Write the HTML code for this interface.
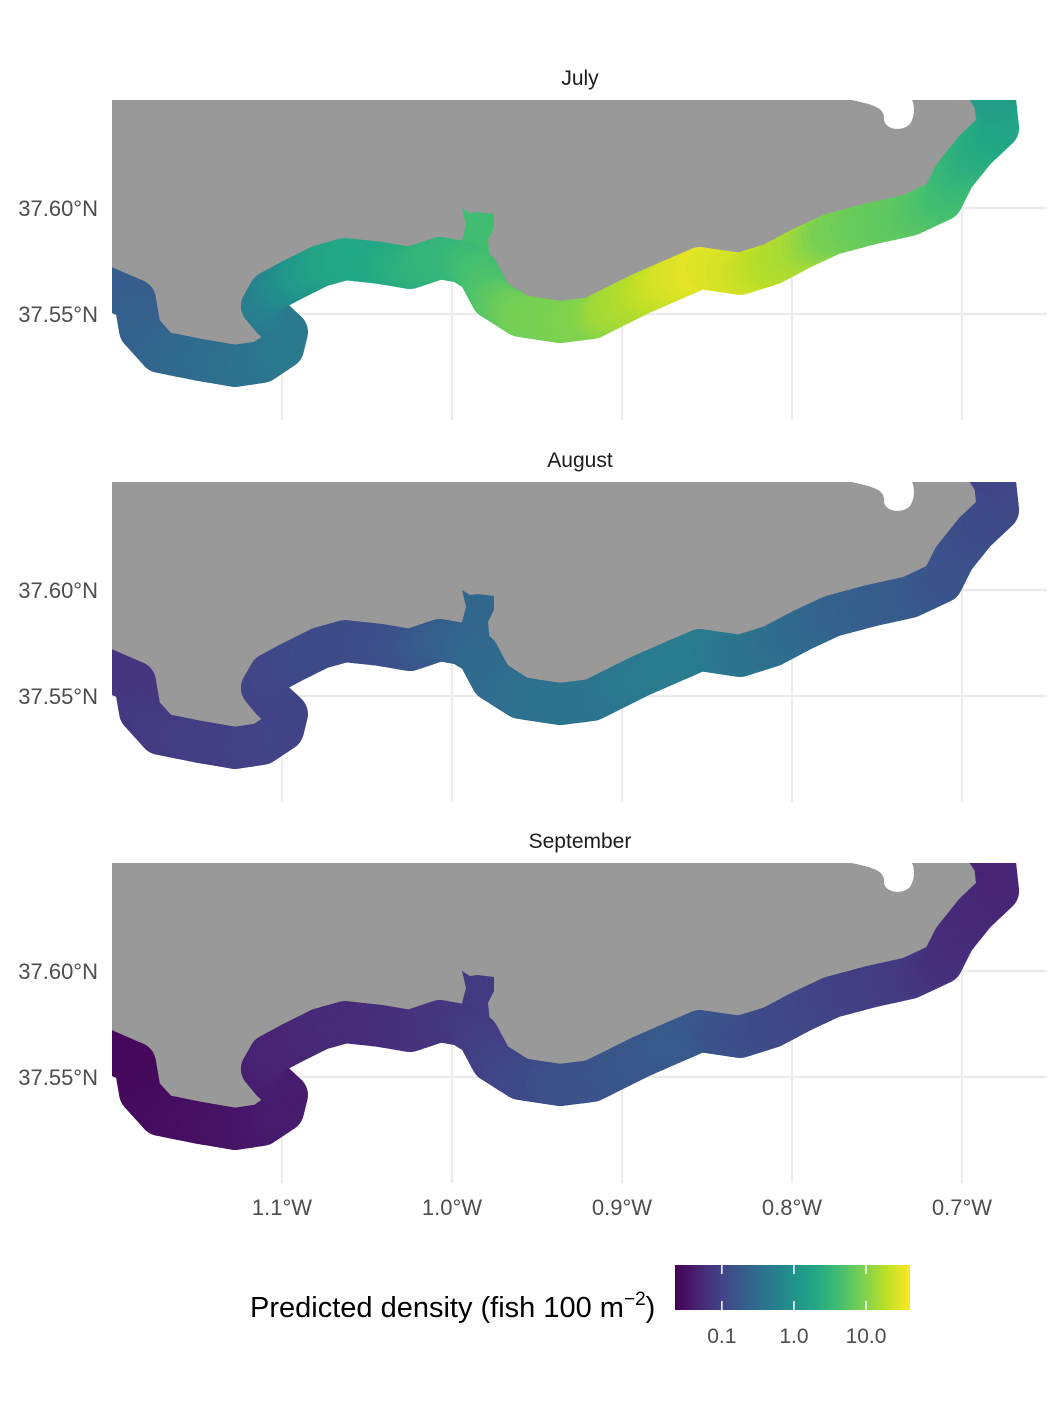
<!DOCTYPE html>
<html><head><meta charset="utf-8"><style>
body{margin:0;background:#fff;}
svg text{font-family:"Liberation Sans",Arial,sans-serif;}
</style></head><body>
<svg id="chart" width="1062" height="1417" viewBox="0 0 1062 1417" xmlns="http://www.w3.org/2000/svg"></svg>
<script>
const months = ['July','August','September'];
const coastLon = [-1.2071,-1.1865,-1.1835,-1.1718,-1.1482,-1.1276,-1.1118,-1.0994,-1.0971,-1.1059,-1.1118,-1.1071,-1.0941,-1.0776,-1.0629,-1.0424,-1.0247,-1.0071,-0.9941,-0.9847,-0.9765,-0.9600,-0.9365,-0.9176,-0.9059,-0.8894,-0.8706,-0.8541,-0.8306,-0.8118,-0.7941,-0.7765,-0.7541,-0.7306,-0.7118,-0.7047,-0.6924,-0.6788,-0.6806,-0.6865];
const coastLat = [37.5637,37.5566,37.5425,37.5321,37.5283,37.5255,37.5274,37.5340,37.5415,37.5481,37.5538,37.5604,37.5660,37.5726,37.5759,37.5741,37.5717,37.5764,37.5745,37.5698,37.5575,37.5491,37.5462,37.5481,37.5528,37.5594,37.5660,37.5717,37.5689,37.5736,37.5811,37.5877,37.5925,37.5967,37.6038,37.6151,37.6274,37.6377,37.6509,37.6580];
const densityJuly = [0.2,0.2,0.22,0.25,0.3,0.35,0.4,0.45,0.45,0.45,0.5,0.6,0.9,1.5,2.0,2.0,2.5,3.0,3.2,4.0,5.0,8,9,10,14,17,25,30,25,18,15,9,7,6,4.5,3.5,2.5,2,1.6,1.4];
const densityAug = [0.07,0.07,0.075,0.08,0.085,0.09,0.095,0.1,0.1,0.1,0.1,0.105,0.11,0.12,0.125,0.13,0.15,0.2,0.24,0.27,0.3,0.34,0.38,0.39,0.42,0.46,0.5,0.52,0.42,0.36,0.3,0.25,0.21,0.19,0.16,0.15,0.13,0.12,0.11,0.1];
const densitySep = [0.026,0.026,0.027,0.028,0.03,0.033,0.036,0.04,0.04,0.04,0.042,0.045,0.048,0.052,0.055,0.058,0.062,0.07,0.075,0.08,0.09,0.11,0.14,0.15,0.16,0.17,0.18,0.18,0.14,0.12,0.11,0.1,0.087,0.08,0.065,0.059,0.054,0.05,0.048,0.046];
const lonTicks = [-1.1,-1.0,-0.9,-0.8,-0.7];
const lonTickLabels = ['1.1°W','1.0°W','0.9°W','0.8°W','0.7°W'];
const latTicks = [37.60,37.55];
const latTickLabels = ['37.60°N','37.55°N'];
const cbTicks = [0.1,1,10];
const cbTickLabels = ['0.1','1.0','10.0'];
const cbMinLog = -1.65, cbMaxLog = 1.61;

const NS='http://www.w3.org/2000/svg';
const svg=document.getElementById('chart');
function mk(tag,attrs,parent){const e=document.createElementNS(NS,tag);for(const k in attrs)e.setAttribute(k,attrs[k]);(parent||svg).appendChild(e);return e;}
const VIR=['#440154','#482475','#414487','#355f8d','#2a788e','#21918c','#22a884','#44bf70','#7ad151','#bddf26','#fde725'];
function hex(c){return [1,3,5].map(i=>parseInt(c.substr(i,2),16));}
function viridis(t){t=Math.max(0,Math.min(1,t));const s=t*10,i=Math.min(9,Math.floor(s)),f=s-i;const a=hex(VIR[i]),b=hex(VIR[i+1]);return 'rgb('+a.map((v,k)=>Math.round(v+(b[k]-v)*f)).join(',')+')';}
function colorOf(d){return viridis((Math.log10(d)-cbMinLog)/(cbMaxLog-cbMinLog));}
const X0=112,X1=1047;
function xs(lon){return 282+(lon+1.1)*1700;}
const panelTops=[100,482,863];
const series=[densityJuly,densityAug,densitySep];

panelTops.forEach((top,p)=>{
  const ys=lat=>top+108+(37.60-lat)*2120;
  const g=mk('g',{});
  
  
  const cid='clip'+p;
  const cp=mk('clipPath',{id:cid},g);mk('rect',{x:X0,y:top,width:X1-X0,height:320},cp);
  const t=mk('text',{x:580,y:top-15,'text-anchor':'middle','font-size':21,fill:'#1a1a1a'},g);t.textContent=months[p];
  
  const inner=mk('g',{'clip-path':'url(#'+cid+')'},g);
  lonTicks.forEach(l=>{const ln=mk('line',{x1:xs(l),x2:xs(l),y1:top,y2:top+320,stroke:'#ebebeb','stroke-width':2.2},inner);});
  latTicks.forEach((l,i)=>{const ln=mk('line',{x1:X0,x2:X1,y1:ys(l),y2:ys(l),stroke:'#ebebeb','stroke-width':2.2},inner);
    const tx=mk('text',{x:98,y:ys(l)+8,'text-anchor':'end','font-size':22,fill:'#4d4d4d'},g);tx.textContent=latTickLabels[i];});
  const pts=coastLon.map((l,i)=>[xs(l),ys(coastLat[i])]);
  let d='M'+(pts[0][0])+','+(pts[0][1]-20);
  pts.forEach(q=>d+=' L'+q[0]+','+(q[1]-20));
  const last=pts[pts.length-1];
  d+=' L'+last[0]+','+(top-60)+' L50,'+(top-60)+' L50,'+(pts[0][1]-20)+' Z';
  const land=mk('path',{d:d,fill:'#999999'},inner);
  const n=mk('path',{d:'M852,'+top+' C868,'+(top+4)+' 886,'+(top+6)+' 884,'+(top+20)+' C886,'+(top+30)+' 902,'+(top+32)+' 910,'+(top+24)+' C916,'+(top+14)+' 914,'+(top+4)+' 912,'+top+' Z',fill:'#fff'},inner);
  
  const band=mk('g',{},inner);
  const dens=series[p];
  const ic=colorOf(dens[19]);
  const il=mk('path',{d:'M462,'+(top+108)+' L470,'+(top+113)+' L478,'+(top+112)+' L494,'+(top+114)+' L494,'+(top+128)+' L488,'+(top+140)+' L490,'+(top+160)+' L470,'+(top+165)+' L462,'+(top+140)+' L466,'+(top+125)+' Z',fill:ic},band);
  
  const SUB=6;
  for(let i=0;i<pts.length-1;i++){
    const la=Math.log10(dens[i]),lb=Math.log10(dens[i+1]);
    for(let k=0;k<SUB;k++){
      const f0=k/SUB,f1=(k+1)/SUB,fm=(k+0.5)/SUB;
      const c=viridis((la+(lb-la)*fm-cbMinLog)/(cbMaxLog-cbMinLog));
      const s=mk('line',{x1:pts[i][0]+(pts[i+1][0]-pts[i][0])*f0,y1:pts[i][1]+(pts[i+1][1]-pts[i][1])*f0,x2:pts[i][0]+(pts[i+1][0]-pts[i][0])*f1,y2:pts[i][1]+(pts[i+1][1]-pts[i][1])*f1,stroke:c,'stroke-width':42,'stroke-linecap':'round'},band);
      
    }
  }
});
lonTicks.forEach((l,i)=>{const tx=mk('text',{x:xs(l),y:1215,'text-anchor':'middle','font-size':22,fill:'#4d4d4d'});tx.textContent=lonTickLabels[i];});
const defs=mk('defs',{});const lg=mk('linearGradient',{id:'vg',x1:0,x2:1,y1:0,y2:0},defs);
VIR.forEach((c,i)=>mk('stop',{offset:(i*10)+'%','stop-color':c},lg));
const cbx0=675,cbx1=910;
function cbx(v){return cbx0+(Math.log10(v)-cbMinLog)/(cbMaxLog-cbMinLog)*(cbx1-cbx0);}
const cb=mk('rect',{x:cbx0,y:1265,width:cbx1-cbx0,height:45,fill:'url(#vg)'});
cbTicks.forEach((v,i)=>{
  mk('line',{x1:cbx(v),x2:cbx(v),y1:1265,y2:1274,stroke:'#fff','stroke-width':1.5});
  mk('line',{x1:cbx(v),x2:cbx(v),y1:1301,y2:1310,stroke:'#fff','stroke-width':1.5});
  const tx=mk('text',{x:cbx(v),y:1343,'text-anchor':'middle','font-size':21,fill:'#4d4d4d'});tx.textContent=cbTickLabels[i];
});
const tt=mk('text',{x:250,y:1317,'font-size':29,fill:'#000'});
tt.innerHTML='Predicted density (fish 100 m<tspan dy="-12" font-size="19">−2</tspan><tspan dy="12">)</tspan>';
</script>
</body></html>
